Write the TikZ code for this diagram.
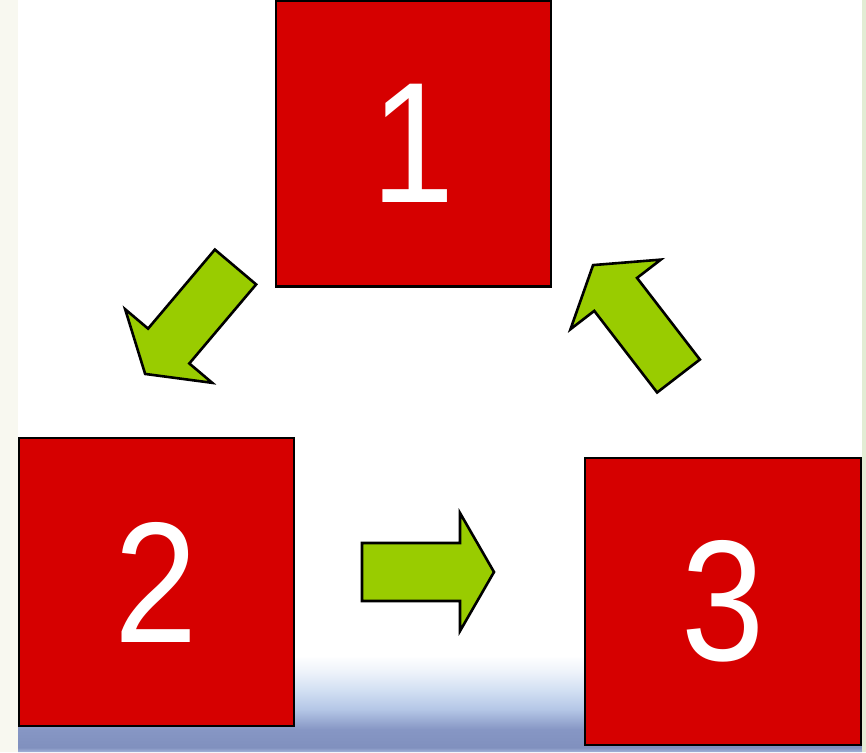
\documentclass[tikz,border=0pt]{standalone}
\usepackage{fontspec}
\setmainfont{Liberation Sans}
\newfontfamily\digitfont[FakeStretch=0.87]{Liberation Sans}
\definecolor{boxred}{HTML}{D60000}
\definecolor{agreen}{HTML}{99CC00}
\definecolor{leftstrip}{HTML}{F8F8F0}
\definecolor{rightstrip}{HTML}{E2ECD4}
\definecolor{flA}{HTML}{A4B4DA}
\definecolor{flB}{HTML}{8090BE}
\definecolor{flC}{HTML}{8696C4}
\definecolor{flD}{HTML}{B4C6E6}
\definecolor{flE}{HTML}{D0DEF2}
\definecolor{flF}{HTML}{EEF3FA}
\pgfdeclareverticalshading{floorshade}{100bp}{color(0bp)=(flA); color(25bp)=(flA); color(27bp)=(flB); color(35bp)=(flC); color(44bp)=(flD); color(52bp)=(flE); color(61bp)=(flF); color(68bp)=(white); color(100bp)=(white)}
\tikzset{
  numbox/.style={draw=black, line width=2.2pt, fill=boxred, text=white,
    font=\digitfont\fontsize{172}{172}\selectfont, inner sep=0pt,
    minimum width=275pt, minimum height=287pt},
  garrow/.style={draw=black, line width=2.6pt, fill=agreen, line join=miter}
}
\begin{document}
\begin{tikzpicture}[x=1pt,y=-1pt]
\useasboundingbox (0,0) rectangle (866,752);
% background
\fill[white] (0,0) rectangle (866,752);
\fill[leftstrip] (0,0) rectangle (18,752);
\fill[rightstrip] (862,0) rectangle (866,752);
\shade[shading=floorshade] (18,752) -- (18,690) .. controls (200,650) and (500,640) .. (862,668) -- (862,752) -- cycle;
% boxes
\node[numbox, minimum height=286pt] (b1) at (413.5,143.5) {1};
\node[numbox, minimum height=288pt] (b2) at (156.5,582) {2};
\node[numbox, minimum width=276pt] (b3) at (723,601.5) {3};
% arrows
\begin{scope}[shift={(235.5,267)}, rotate=229.8]
  \coordinate (a12tail) at (0,0);
  \draw[garrow] (0,27) -- (103.5,27) -- (103.5,57) -- (140,0) -- (103.5,-57) -- (103.5,-27) -- (0,-27) -- cycle;
\end{scope}
\begin{scope}[shift={(362,572)}]
  \coordinate (a23tail) at (0,0);
  \draw[garrow] (0,29) -- (98,29) -- (98,59) -- (132,0) -- (98,-59) -- (98,-29) -- (0,-29) -- cycle;
\end{scope}
\begin{scope}[shift={(678.5,376)}, rotate=127.6]
  \coordinate (a31tail) at (0,0);
  \draw[garrow] (0,27) -- (103,27) -- (103,57) -- (140,0) -- (103,-57) -- (103,-27) -- (0,-27) -- cycle;
\end{scope}
\end{tikzpicture}
\end{document}
